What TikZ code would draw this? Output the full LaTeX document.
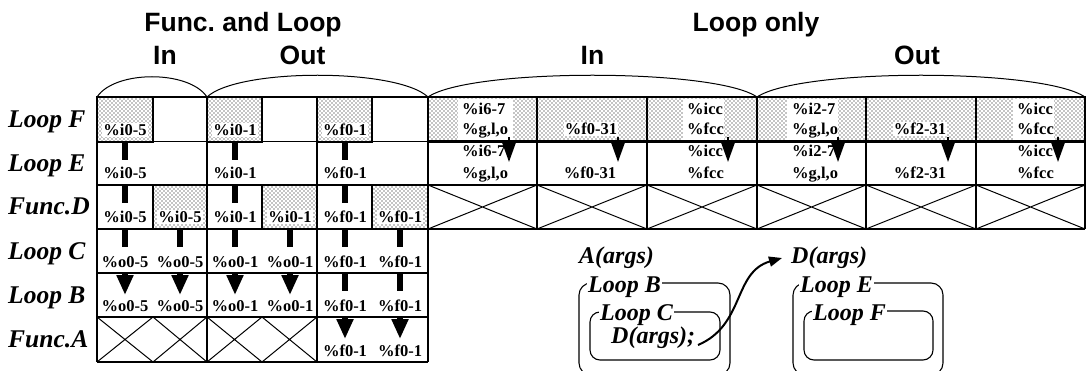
\documentclass[tikz,border=0pt]{standalone}
\usepackage{fontspec}
\setmainfont{Liberation Serif}
\setsansfont{Liberation Sans}
\usetikzlibrary{arrows.meta,patterns}
\frenchspacing
\pgfdeclarepatternformonly{mydots}{\pgfqpoint{-1pt}{-1pt}}{\pgfqpoint{3pt}{3pt}}{\pgfqpoint{4pt}{4pt}}{%
  \pgfpathcircle{\pgfqpoint{0pt}{0pt}}{0.6pt}%
  \pgfpathcircle{\pgfqpoint{2pt}{2pt}}{0.6pt}%
  \pgfusepath{fill}}
\begin{document}
\begin{tikzpicture}[x=1pt,y=-1pt,
  gridl/.style={line width=1.1pt},
  shadefill/.style={pattern=mydots, pattern color=black},
  boxline/.style={line width=2.8pt},
  crossl/.style={line width=1pt},
  bar/.style={line width=5.5pt},
  bigarrow/.style={line width=5.5pt,-{Triangle[width=16pt,length=20pt]}},
  smallarrow/.style={line width=2pt,-{Triangle[width=13pt,length=19pt]}},
  hdr/.style={font=\sffamily\bfseries\fontsize{26.5}{26.5}\selectfont, anchor=base, inner sep=0pt},
  rowlab/.style={font=\bfseries\itshape\fontsize{25.5}{25.5}\selectfont, anchor=base west, inner sep=0pt},
  blab/.style={font=\bfseries\itshape\fontsize{24}{24}\selectfont, anchor=base west, inner sep=1pt},
  cell/.style={font=\bfseries\fontsize{16.5}{19}\selectfont, anchor=base, fill=white, inner sep=1.2pt},
  lcell/.style={font=\bfseries\fontsize{16.5}{19}\selectfont, anchor=base west, inner sep=0pt},
  loopbox/.style={line width=1.1pt, rounded corners=12pt},
  callarrow/.style={line width=2pt,-{Triangle[width=10pt,length=13pt]}}
]
\useasboundingbox (0,0) rectangle (1086,371);
\clip (0,0) rectangle (1086,371);

% ---------- headers ----------
\node[hdr] (hfl) at (243,32) {Func. and Loop};
\node[hdr] (hin1) at (165,65) {In};
\node[hdr] (hout1) at (302.5,65) {Out};
\node[hdr] (hlo) at (756,32) {Loop only};
\node[hdr] (hin2) at (592.5,65) {In};
\node[hdr] (hout2) at (917,65) {Out};

% ---------- braces (arcs) ----------
\draw[line width=1pt] (97,97) .. controls (115,70) and (189,70) .. (207,97);
\draw[line width=1pt] (207,97) .. controls (238,68) and (397,68) .. (428,97);
\draw[line width=1pt] (428,97) .. controls (470,68) and (715,68) .. (757,97);
\draw[line width=1pt] (757,97) .. controls (800,68) and (1042,68) .. (1085,97);

% ---------- row labels ----------
\node[rowlab] (lF) at (8,127.5) {Loop F};
\node[rowlab] (lE) at (8,171.5) {Loop E};
\node[rowlab] (lD) at (8,215) {Func.D};
\node[rowlab] (lC) at (8,259) {Loop C};
\node[rowlab] (lB) at (8,303) {Loop B};
\node[rowlab] (lA) at (8,347.5) {Func.A};

% ---------- shaded fills ----------
\foreach \a/\b in {97/153,207/262,317/372} \fill[shadefill] (\a,97) rectangle (\b,142);
\foreach \a/\b in {153/207,262/317,372/428} \fill[shadefill] (\a,185) rectangle (\b,229);
\foreach \a/\b in {428/537,537/647,647/757,757/866,866/976,976/1085} \fill[shadefill] (\a,97) rectangle (\b,141.5);
% white backgrounds behind two-line texts
\foreach \a/\b in {458/513,683/724,787/838,1013/1054} \fill[white] (\a,99) rectangle (\b,140);

% ---------- grid ----------
\draw[gridl] (97,97) -- (1085,97);
\draw[gridl] (97,141.5) -- (1085,141.5);
\draw[gridl] (97,185) -- (1085,185);
\draw[gridl] (97,229) -- (1085,229);
\draw[gridl] (97,273) -- (428,273);
\draw[gridl] (97,317) -- (428,317);
\draw[gridl] (97,362) -- (428,362);
\foreach \x in {97,207,317,428} \draw[gridl] (\x,97) -- (\x,362);
\foreach \x in {537,647,757,866,976,1085} \draw[gridl] (\x,97) -- (\x,229);

% ---------- crossed cells ----------
\foreach \a/\b in {428/537,537/647,647/757,757/866,866/976,976/1085}
  \draw[crossl] (\a,185) -- (\b,229) (\a,229) -- (\b,185);
\foreach \a/\b in {97/153,153/207,207/262,262/317}
  \draw[crossl] (\a,317) -- (\b,362) (\a,362) -- (\b,317);

% ---------- thick box borders ----------
\foreach \a/\b in {97/153,207/262,317/372} \draw[boxline] (\a,97) rectangle (\b,142);
\foreach \a/\b in {153/207,262/317,372/428} \draw[boxline] (\a,185) rectangle (\b,229);
\foreach \a/\b in {428/537,537/647,647/757,757/866,866/976,976/1085} \draw[boxline] (\a,97) rectangle (\b,141.5);

% ---------- left-table flow bars and arrows ----------
\foreach \x in {125,235} {
  \draw[bar] (\x,142) -- (\x,160);
  \draw[bar] (\x,185) -- (\x,203);
  \draw[bar] (\x,229) -- (\x,247);
  \draw[bigarrow] (\x,273) -- (\x,295);
}
\foreach \x in {180,290} {
  \draw[bar] (\x,229) -- (\x,247);
  \draw[bigarrow] (\x,273) -- (\x,295);
}
\draw[bar] (345,142) -- (345,160);
\draw[bar] (345,185) -- (345,203);
\foreach \x in {345,400} {
  \draw[bar] (\x,229) -- (\x,247);
  \draw[bar] (\x,273) -- (\x,291);
  \draw[bigarrow] (\x,317) -- (\x,339);
}

% ---------- right-table arrows ----------
\foreach \x in {509,618,728,838,948,1058} \draw[smallarrow] (\x,137) -- (\x,162);

% ---------- left-table texts ----------
\node[cell] (t11) at (125,136) {\%i0-5};
\node[cell] (t13) at (235,136) {\%i0-1};
\node[cell] (t15) at (345,136) {\%f0-1};
\node[cell] (t21) at (125,179) {\%i0-5};
\node[cell] (t23) at (235,179) {\%i0-1};
\node[cell] (t25) at (345,179) {\%f0-1};
\node[cell] (t31) at (125,223) {\%i0-5};
\node[cell] (t32) at (180,223) {\%i0-5};
\node[cell] (t33) at (235,223) {\%i0-1};
\node[cell] (t34) at (290,223) {\%i0-1};
\node[cell] (t35) at (345,223) {\%f0-1};
\node[cell] (t36) at (400,223) {\%f0-1};
\node[cell] (t41) at (125,267) {\%o0-5};
\node[cell] (t42) at (180,267) {\%o0-5};
\node[cell] (t43) at (235,267) {\%o0-1};
\node[cell] (t44) at (290,267) {\%o0-1};
\node[cell] (t45) at (345,267) {\%f0-1};
\node[cell] (t46) at (400,267) {\%f0-1};
\node[cell] (t51) at (125,311) {\%o0-5};
\node[cell] (t52) at (180,311) {\%o0-5};
\node[cell] (t53) at (235,311) {\%o0-1};
\node[cell] (t54) at (290,311) {\%o0-1};
\node[cell] (t55) at (345,311) {\%f0-1};
\node[cell] (t56) at (400,311) {\%f0-1};
\node[cell] (t65) at (345,356) {\%f0-1};
\node[cell] (t66) at (400,356) {\%f0-1};

% ---------- right-table texts ----------
\node[lcell] (r11a) at (462,115) {\%i6-7};
\node[lcell] (r11b) at (462,135) {\%g,l,o};
\node[cell]  (r12)  at (591,135) {\%f0-31};
\node[lcell] (r13a) at (687,115) {\%icc};
\node[lcell] (r13b) at (687,135) {\%fcc};
\node[lcell] (r14a) at (792,115) {\%i2-7};
\node[lcell] (r14b) at (792,135) {\%g,l,o};
\node[cell]  (r15)  at (920,135) {\%f2-31};
\node[lcell] (r16a) at (1017,115) {\%icc};
\node[lcell] (r16b) at (1017,135) {\%fcc};

\node[lcell] (r21a) at (462,157) {\%i6-7};
\node[lcell] (r21b) at (462,179) {\%g,l,o};
\node[cell]  (r22)  at (590,179) {\%f0-31};
\node[lcell] (r23a) at (687,157) {\%icc};
\node[lcell] (r23b) at (687,179) {\%fcc};
\node[lcell] (r24a) at (792,157) {\%i2-7};
\node[lcell] (r24b) at (792,179) {\%g,l,o};
\node[cell]  (r25)  at (920,179) {\%f2-31};
\node[lcell] (r26a) at (1017,157) {\%icc};
\node[lcell] (r26b) at (1017,179) {\%fcc};

% ---------- code structure sketch ----------
\draw[loopbox] (579,375) rectangle (730,283);
\draw[loopbox, rounded corners=10pt] (590,360) rectangle (720,312);
\draw[loopbox] (793,375) rectangle (943,283);
\draw[loopbox, rounded corners=10pt] (804,360) rectangle (933,311);

\node[blab] (aargs) at (578,263) {A(args)};
\node[blab] (dargs) at (790,263) {D(args)};
\node[blab, fill=white] (loopB) at (587,292) {Loop B};
\node[blab, fill=white] (loopC) at (599,320) {Loop C};
\node[blab] (dcall) at (610,343) {D(args);};
\node[blab, fill=white] (loopE) at (799,292) {Loop E};
\node[blab, fill=white] (loopFb) at (812,320) {Loop F};

\coordinate (cstart) at (698,345);
\coordinate (cend) at (782,258);
\draw[callarrow] (cstart) .. controls (745,325) and (733,272) .. (cend);
\end{tikzpicture}
\end{document}
